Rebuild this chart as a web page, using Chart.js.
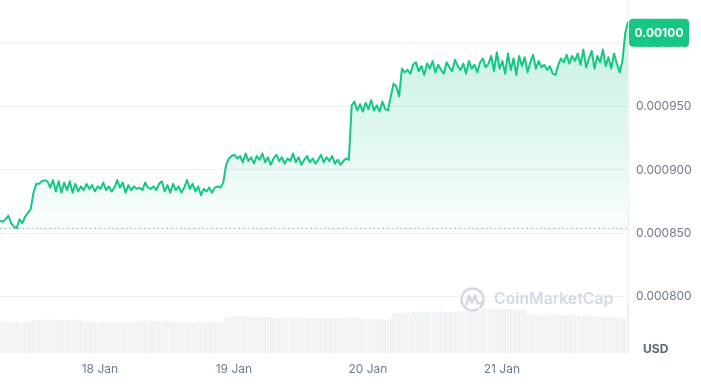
<!DOCTYPE html>
<html>
<head>
<meta charset="utf-8">
<script src="https://cdn.jsdelivr.net/npm/chart.js@4"></script>
<style>
html, body {margin: 0; padding: 0; background: #fff;}
#wrap {width: 701px; height: 388px; position: relative;}
</style>
</head>
<body>
<div id="wrap"><canvas id="priceChart"></canvas></div>
<script>
"use strict";

// first sample, in hours after 17 Jan 00:00, and gap between samples
const startHour = 6.1;
const stepHours = 0.5;

// price, in millionths of a USD
const prices = [
  860, 859, 861, 864, 858, 855, 854, 861, 858, 863, 866, 869, 882, 889,
  889, 891, 892, 891, 886, 892, 883, 891, 882, 890, 884, 891, 882, 889, 883, 887,
  884, 889, 885, 888, 883, 887, 885, 890, 884, 887, 883, 886, 892, 886, 890, 882,
  888, 884, 887, 885, 886, 884, 890, 886, 885, 887, 884, 889, 891, 883, 888, 882,
  889, 884, 887, 882, 886, 892, 885, 889, 883, 887, 880, 885, 883, 886, 882, 886,
  887, 886,
  890, 904, 909, 911, 912, 909, 911, 906, 913, 907, 910, 905, 911, 908, 913, 906,
  910, 904, 909, 912, 907, 910, 905, 909, 907, 913, 906, 910, 904, 908, 911, 906,
  909, 905, 908, 912, 906, 910, 907, 911, 905, 908, 904, 907, 909, 908,
  951, 954, 947, 952, 946, 953, 948, 955, 947, 951, 946, 954, 948, 947,
  958, 968, 966, 958, 980, 977,
  979, 976, 983, 985, 978, 982, 975, 984, 980, 986,
  977, 983, 979, 976, 985, 981, 978, 987, 982, 979,
  984, 976, 986, 980, 983, 977, 985, 988, 981, 984,
  990, 978, 993, 980, 986, 976, 992, 979, 988, 975, 990,
  982, 989, 977, 985, 991, 980, 986, 981, 983, 979, 982,
  976, 975, 983, 988, 985, 991, 984, 990, 986, 992,
  983, 995, 981, 988, 994, 980, 990, 985, 995, 982, 989,
  980, 992, 984, 977,
  986, 1008, 1017
];

// 24h volume, relative units
const volumes = [
  31, 31, 32, 31, 31, 31, 32, 31, 31, 31, 31, 31,
  33, 33, 33, 34, 33, 33, 33, 33, 34, 33, 33, 33, 33, 33, 34, 33, 33, 33,
  31, 31, 31, 31, 31, 30, 31, 31, 31, 31, 31, 31, 31, 31, 31, 31, 31, 31, 31,
  32, 32, 32, 33, 32, 32, 32, 32, 32, 31, 32, 32, 32, 32, 31, 32,
  30, 30, 30, 30, 30, 30,
  31, 31, 31, 31, 31, 31, 31, 31, 31, 31,
  36, 36, 36, 37, 37, 37, 37, 37, 36, 36, 36, 36, 36, 36, 36, 36, 36, 35, 35, 35, 36, 36,
  35, 35, 35, 34, 35, 35, 35, 35, 35, 35, 35, 35, 35, 35, 35, 35, 35, 35, 35, 35, 35,
  35, 36, 36, 36, 36,
  34, 34, 34, 34, 34, 34, 34, 34, 34, 33, 34, 34,
  40, 40, 40, 40, 40, 40, 40, 41, 40, 40, 41, 41,
  41, 41, 41, 41, 42, 42, 41, 41, 41, 41, 41, 42, 42, 42, 42, 41, 41, 41, 42, 42,
  44, 44, 44, 44, 44, 44, 44, 44, 44, 44, 44, 44, 44, 43, 44, 44,
  38, 38, 38, 38, 38, 38, 37, 38, 38, 38, 38, 38, 38, 38, 38, 38, 38, 38, 37, 37, 37, 38, 38,
  37, 36, 36, 36, 36, 36, 36, 36, 36, 36, 36,
  35, 35,
  52
];

const tickHours = [24, 48, 72, 96];
const tickLabels = ['18 Jan', '19 Jan', '20 Jan', '21 Jan'];
const priceTicks = [0.0008, 0.00085, 0.0009, 0.00095, 0.001];
const openPrice = 0.000854;
const lastPriceLabel = '0.00100';

const green = '#16c784';
const grey = '#6f7a8f';
const fontFamily = 'Inter, "Noto Sans", sans-serif';

let hourAt = function (i) {return startHour + i * stepHours;};

const pricePoints = prices.map((p, i) => ({x: hourAt(i), y: p / 1e6}));
const volumePoints = volumes.map((v, i) => ({x: hourAt(i), y: v}));

let areaFill = function (context)
{
  const chart = context.chart;
  const area = chart.chartArea;
  if (!area) return 'rgba(22,199,132,0.15)';
  const yScale = chart.scales.y;
  const top = yScale.getPixelForValue(0.00102);
  const bottom = yScale.getPixelForValue(0.00085);
  const g = chart.ctx.createLinearGradient(0, top, 0, bottom);
  g.addColorStop(0, 'rgba(22,199,132,0.26)');
  g.addColorStop(1, 'rgba(22,199,132,0.02)');
  return g;
};

// watermark behind the marks
const watermark =
  {
  id: 'watermark',
  beforeDatasetsDraw(chart)
  {
    const ctx = chart.ctx;
    const area = chart.chartArea;
    const cx = area.right - 155.5;
    const cy = area.bottom - 53.5;
    ctx.save();
    ctx.strokeStyle = '#d3d9e4';
    ctx.lineWidth = 2.6;
    ctx.lineJoin = 'round';
    ctx.lineCap = 'round';
    ctx.beginPath();
    ctx.arc(cx, cy, 11, Math.PI * 0.35, Math.PI * 2.25);
    ctx.stroke();
    ctx.beginPath();
    ctx.moveTo(cx - 6, cy + 5);
    ctx.lineTo(cx - 3.5, cy - 4);
    ctx.lineTo(cx - 0.5, cy + 3);
    ctx.lineTo(cx + 2.5, cy - 4);
    ctx.lineTo(cx + 5, cy + 4);
    ctx.lineTo(cx + 9, cy + 3);
    ctx.stroke();
    ctx.fillStyle = '#d3d9e4';
    ctx.font = '600 19px ' + fontFamily;
    const w = ctx.measureText('CoinMarketCap').width;
    const size = 19 * 119 / w;
    ctx.font = '600 ' + size.toFixed(1) + 'px ' + fontFamily;
    ctx.textBaseline = 'middle';
    ctx.fillText('CoinMarketCap', cx + 21.5, cy);
    ctx.restore();
  }
};

// open price dotted line, last price badge, currency
const overlays =
  {
  id: 'overlays',
  afterDatasetsDraw(chart)
  {
    const ctx = chart.ctx;
    const area = chart.chartArea;
    const yScale = chart.scales.y;
    const yOpen = Math.round(yScale.getPixelForValue(openPrice)) + 0.5;
    ctx.save();
    ctx.strokeStyle = '#a6abb3';
    ctx.lineWidth = 1;
    ctx.setLineDash([1.5, 3]);
    ctx.beginPath();
    ctx.moveTo(area.left, yOpen);
    ctx.lineTo(area.right, yOpen);
    ctx.stroke();
    ctx.restore();
  },
  afterDraw(chart)
  {
    const ctx = chart.ctx;
    const area = chart.chartArea;
    const yScale = chart.scales.y;
    const yLast = yScale.getPixelForValue(prices[prices.length - 1] / 1e6);
    const bx = area.right + 1;
    const by = yLast - 3;
    ctx.save();
    ctx.fillStyle = green;
    ctx.beginPath();
    ctx.roundRect(bx, by, 60, 28, 4);
    ctx.fill();
    ctx.fillStyle = '#fff';
    ctx.font = 'bold 12px ' + fontFamily;
    ctx.textAlign = 'center';
    ctx.textBaseline = 'middle';
    ctx.fillText(lastPriceLabel, bx + 30, by + 14.5);
    ctx.fillStyle = '#58667e';
    ctx.textAlign = 'left';
    ctx.fillText('USD', area.right + 15, area.bottom - 4);
    ctx.restore();
  }
};

let noPadding = function (s)
{
  s.paddingTop = 0;
  s.paddingBottom = 0;
  s.paddingLeft = 0;
  s.paddingRight = 0;
};

let config =
  {
  type: 'line',
  data:
    {
    datasets:
      [
      {
        type: 'line',
        data: pricePoints,
        yAxisID: 'y',
        borderColor: green,
        borderWidth: 2,
        borderJoinStyle: 'round',
        pointRadius: 0,
        tension: 0,
        fill: {value: 0.00085},
        backgroundColor: areaFill,
        order: 1
      },
      {
        type: 'bar',
        data: volumePoints,
        yAxisID: 'vol',
        backgroundColor: '#eef1f4',
        barPercentage: 1,
        categoryPercentage: 0.78,
        order: 2
      }
    ]
  },
  options:
    {
    responsive: true,
    maintainAspectRatio: false,
    animation: false,
    layout: {padding: 0},
    plugins: {legend: {display: false}, tooltip: {enabled: false}},
    scales:
      {
      x:
        {
        type: 'linear',
        min: startHour,
        max: hourAt(prices.length - 1),
        offset: false,
        grid: {display: false, drawTicks: false},
        border: {display: false},
        afterBuildTicks: function (s) {s.ticks = tickHours.map(v => ({value: v}));},
        afterFit: function (s) {s.height = 35; noPadding(s);},
        ticks:
          {
          autoSkip: false,
          maxRotation: 0,
          padding: 9,
          color: grey,
          font: {family: fontFamily, size: 12},
          callback: function (value) {
            const k = tickHours.indexOf(value);
            return k >= 0 ? tickLabels[k] : '';
          }
        }
      },
      y:
        {
        position: 'right',
        min: 0.0007554,
        max: 0.0010342,
        afterBuildTicks: function (s) {s.ticks = priceTicks.map(v => ({value: v}));},
        afterFit: function (s) {s.width = 73; noPadding(s);},
        grid: {color: '#eff1f4', drawTicks: false},
        border: {display: true, color: '#eceff3'},
        ticks:
          {
          autoSkip: false,
          padding: 8,
          color: grey,
          font: {family: fontFamily, size: 12},
          callback: function (value) {return value.toFixed(6);}
        }
      },
      vol:
        {
        display: false,
        min: 0,
        max: 353
      }
    }
  },
  plugins: [watermark, overlays]
};

const ctx = document.getElementById('priceChart').getContext('2d');
const priceChart = new Chart(ctx, config);
</script>
</body>
</html>
